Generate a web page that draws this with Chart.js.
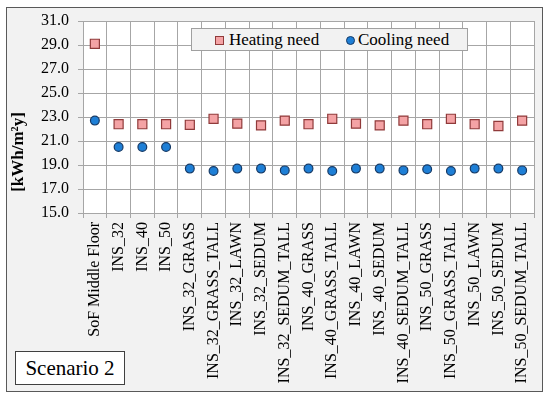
<!DOCTYPE html>
<html>
<head>
<meta charset="utf-8">
<script src="https://cdn.jsdelivr.net/npm/chart.js@4.4.1/dist/chart.umd.min.js"></script>
<style>
  body { margin: 0; background: #fff; }
  #wrap { position: relative; width: 550px; height: 399px; }
  #frame { position: absolute; left: 6px; top: 7px; width: 535px; height: 383px;
           border: 1.5px solid #595959; background: #f2f2f2; }
  canvas { position: absolute; left: 0; top: 0; }
  .serif { font-family: "Liberation Serif", "Times New Roman", serif; color: #000; }
  #legend { position: absolute; left: 191px; top: 28px; width: 275px; height: 21px;
            background: #f2f2f2; border: 1px solid #a0a0a0; font-size: 17px; line-height: 21px; }
  #legend span { position: absolute; top: 0; }
  .sq { display: inline-block; position: absolute; width: 7px; height: 7px; top: 7px;
        background: #f4a3a5; border: 1px solid #903a3a; }
  .ci { display: inline-block; position: absolute; width: 7px; height: 7px; top: 7px; border-radius: 50%;
        background: #1e7fd6; border: 1px solid #163a66; }
  #scen { position: absolute; left: 15px; top: 351px; width: 108px; height: 32px;
          background: #fff; border: 1px solid #404040; font-size: 21px; line-height: 32px; text-align: center; }
</style>
</head>
<body>
<div id="wrap">
  <div id="frame"></div>
  <canvas id="chart" width="550" height="399"></canvas>
  <div id="legend" class="serif">
    <i class="sq" style="left:23px"></i><span style="left:37px">Heating need</span>
    <i class="ci" style="left:154px"></i><span style="left:166px">Cooling need</span>
  </div>
  <div id="scen" class="serif">Scenario 2</div>
</div>
<script>
const categories = ['SoF Middle Floor', 'INS_32', 'INS_40', 'INS_50',
    'INS_32_GRASS', 'INS_32_GRASS_TALL', 'INS_32_LAWN', 'INS_32_SEDUM', 'INS_32_SEDUM_TALL',
    'INS_40_GRASS', 'INS_40_GRASS_TALL', 'INS_40_LAWN', 'INS_40_SEDUM', 'INS_40_SEDUM_TALL',
    'INS_50_GRASS', 'INS_50_GRASS_TALL', 'INS_50_LAWN', 'INS_50_SEDUM', 'INS_50_SEDUM_TALL'];

const heatingNeed = [29.1, 22.4, 22.4, 22.4,
    22.35, 22.85, 22.45, 22.3, 22.7,
    22.4, 22.85, 22.45, 22.3, 22.7,
    22.4, 22.85, 22.4, 22.25, 22.7];

const coolingNeed = [22.7, 20.5, 20.5, 20.5,
    18.7, 18.5, 18.7, 18.7, 18.55,
    18.7, 18.5, 18.7, 18.7, 18.55,
    18.65, 18.5, 18.7, 18.7, 18.55];

const yTicks = [15, 17, 19, 21, 23, 25, 27, 29, 31];

const FONT = '"Liberation Serif", "Times New Roman", serif';
const GRID = '#a6a6a6';

// white plot area + y axis title
const plotDeco = {
    id: 'plotDeco',
    beforeDraw(chart) {
        const a = chart.chartArea;
        const ctx = chart.ctx;
        ctx.save();
        ctx.fillStyle = '#ffffff';
        ctx.fillRect(a.left, a.top, a.right - a.left, a.bottom - a.top);
        ctx.restore();
    },
    afterDraw(chart) {
        const ctx = chart.ctx;
        ctx.save();
        ctx.translate(19, 152);
        ctx.rotate(-Math.PI / 2);
        ctx.font = 'bold 17px ' + FONT;
        ctx.fillStyle = '#000';
        ctx.textAlign = 'center';
        ctx.textBaseline = 'middle';
        ctx.fillText('[kWh/m\u00B2y]', 0, 0);
        ctx.restore();
    }
};

var ctx = document.getElementById('chart').getContext('2d');
new Chart(ctx, {
    type: 'line',
    data: {
        labels: categories,
        datasets: [{
            label: 'Heating need',
            data: heatingNeed,
            showLine: false,
            pointStyle: 'rect',
            pointRadius: 6.4,
            backgroundColor: '#f4a3a5',
            borderColor: '#903a3a',
            pointBorderWidth: 1.2
        }, {
            label: 'Cooling need',
            data: coolingNeed,
            showLine: false,
            pointStyle: 'circle',
            pointRadius: 4.4,
            backgroundColor: '#1e7fd6',
            borderColor: '#163a66',
            pointBorderWidth: 1.2
        }]
    },
    options: {
        responsive: false,
        animation: false,
        layout: { padding: { left: 0, top: 21, right: 16, bottom: 0 } },
        plugins: {
            legend: { display: false },
            tooltip: { enabled: false }
        },
        scales: {
            x: {
                offset: true,
                grid: { color: GRID, offset: true, tickLength: 5 },
                border: { color: GRID },
                ticks: {
                    maxRotation: 90, minRotation: 90, autoSkip: false,
                    padding: 4, color: '#000',
                    font: { family: FONT, size: 16 }
                },
                afterFit: function (scale) { scale.height = 186; }
            },
            y: {
                min: 15, max: 31,
                afterBuildTicks: function (scale) {
                    scale.ticks = yTicks.map(v => ({ value: v }));
                },
                grid: { color: GRID, tickLength: 5 },
                border: { color: GRID },
                ticks: {
                    padding: 9, color: '#000',
                    font: { family: FONT, size: 16 },
                    callback: v => v.toFixed(1)
                },
                afterFit: function (scale) { scale.width = 83; }
            }
        }
    },
    plugins: [plotDeco]
});
</script>
</body>
</html>
